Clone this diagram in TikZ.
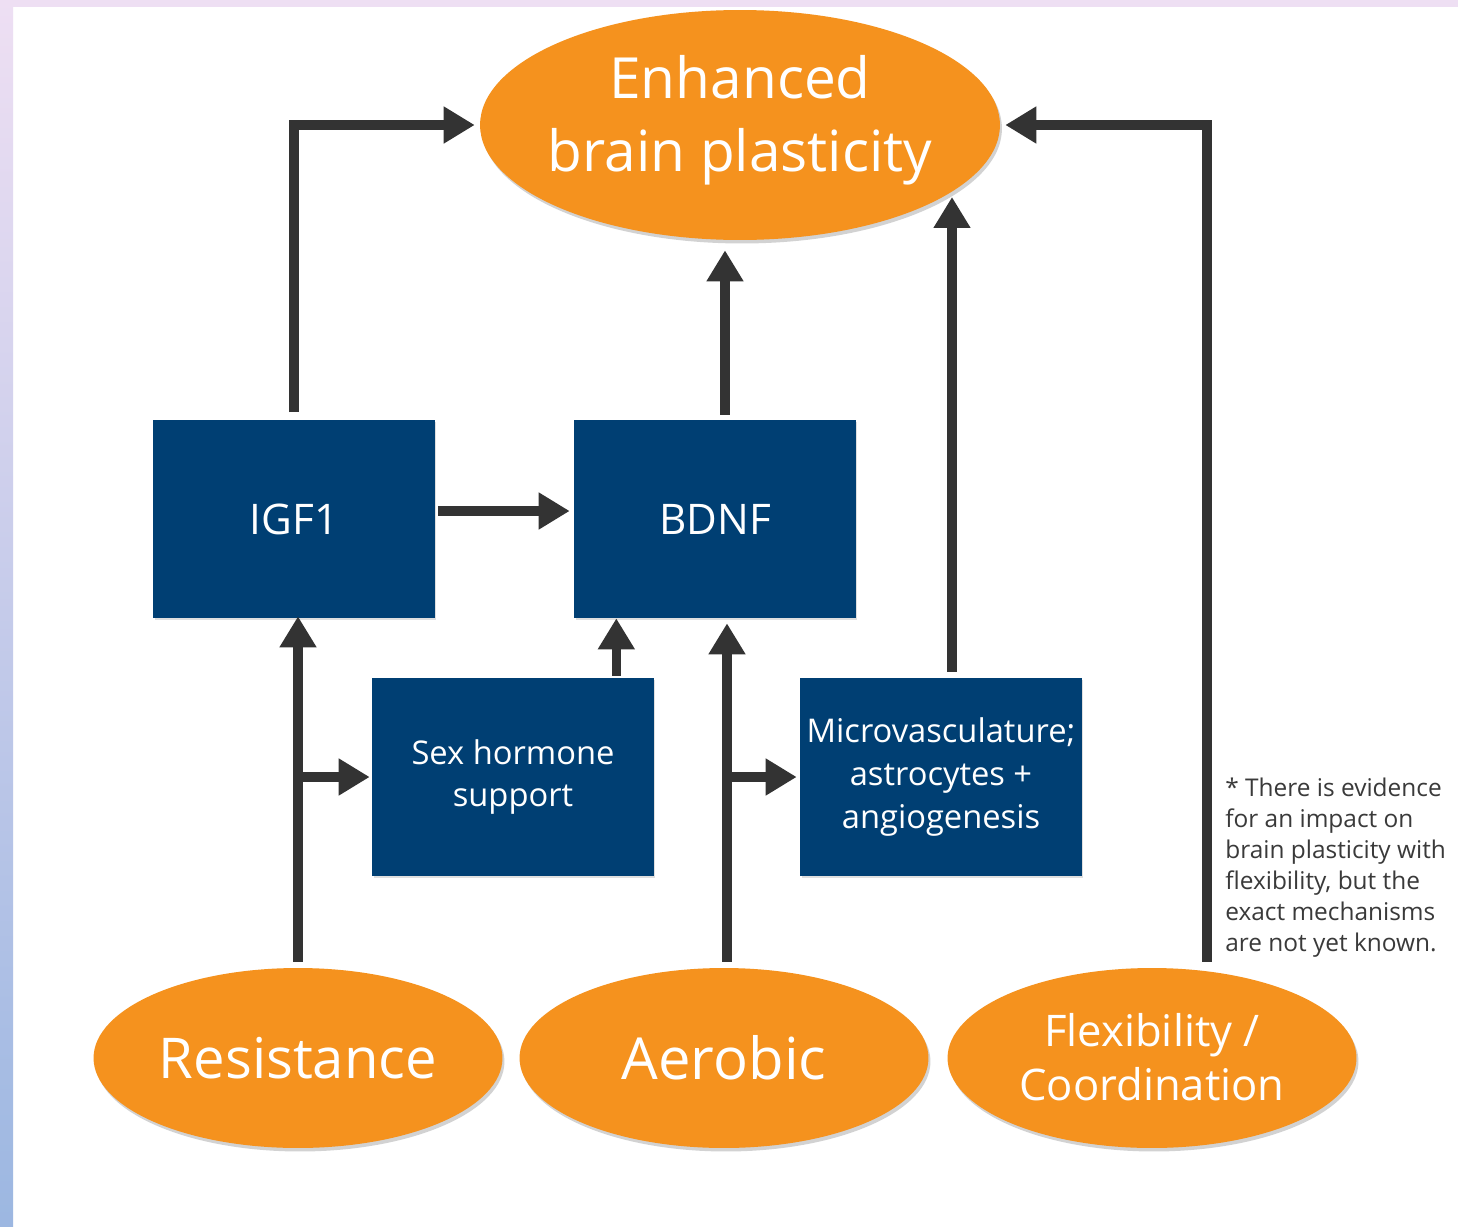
\documentclass[tikz,border=0pt]{standalone}
\usepackage{fontspec}
\setmainfont{Open Sans}
\usetikzlibrary{shapes.geometric,arrows.meta,shadows,calc}
\definecolor{orng}{HTML}{F5921E}
\definecolor{navy}{HTML}{003F73}
\definecolor{arr}{HTML}{333333}
\definecolor{bordtop}{HTML}{EEDFF3}
\definecolor{bordbot}{HTML}{9CB7E1}
\definecolor{notegray}{HTML}{3A3A3A}
\begin{document}
\begin{tikzpicture}[x=0.02cm,y=-0.02cm,
  oval/.style={ellipse,fill=orng,draw=none,inner sep=0pt,
    drop shadow={shadow xshift=0.04cm,shadow yshift=-0.07cm,opacity=0.35,fill=gray}},
  ovaltext/.style={text=white,align=center,font=\fontsize{32.3}{41.5}\selectfont},
  bluebox/.style={rectangle,fill=navy,draw=none,inner sep=0pt,
    minimum width=5.64cm,minimum height=3.96cm,text=white,align=center,
    drop shadow={shadow xshift=0.03cm,shadow yshift=-0.04cm,opacity=0.25,fill=gray}},
  conn/.style={draw=arr,line width=0.19cm,
    -{Triangle[length=0.62cm,width=0.7cm]}},
]
\useasboundingbox (0,0) rectangle (1458,1227);
\fill[white] (0,0) rectangle (1458,1227);
% border strips
\shade[top color=bordtop,bottom color=bordbot] (0,0) rectangle (13,1227);
\fill[bordtop] (13,0) rectangle (1458,7);

% ellipses
\node[oval,minimum width=10.4cm,minimum height=4.6cm] (top) at (740,125) {};
\node[ovaltext] (toptxt) at (740,120) {Enhanced\\brain plasticity};

\node[oval,minimum width=8.18cm,minimum height=3.6cm] (res) at (298,1058) {};
\node[ovaltext,font=\fontsize{32}{40}\selectfont] (restxt) at (298,1058) {Resistance};
\node[oval,minimum width=8.18cm,minimum height=3.6cm] (aer) at (724,1058) {};
\node[ovaltext,font=\fontsize{33}{40}\selectfont] (aertxt) at (724,1058) {Aerobic};
\node[oval,minimum width=8.18cm,minimum height=3.6cm] (flex) at (1152,1058) {};
\node[ovaltext,font=\fontsize{24.8}{31}\selectfont] (flextxt) at (1152,1057) {Flexibility /\\Coordination};

% boxes
\node[bluebox,font=\fontsize{24}{28}\selectfont] (igf) at (294,519) {IGF1};
\node[bluebox,font=\fontsize{24}{28}\selectfont] (bdnf) at (715,519) {BDNF};
\node[bluebox,font=\fontsize{18.6}{24.4}\selectfont] (sex) at (513,777) {Sex hormone\\support};
\node[bluebox,font=\fontsize{18.6}{24.4}\selectfont] (micro) at (941,777) {Microvasculature;\\astrocytes +\\angiogenesis};

% note
\node[anchor=north west,align=left,text=notegray,inner sep=0pt,
  font=\fontsize{13.9}{17.6}\selectfont] (note) at (1225,778)
  {* There is evidence\\for an impact on\\brain plasticity with\\flexibility, but the\\exact mechanisms\\are not yet known.};

% connectors
\coordinate (rs) at ($(res.north)+(0,-6)$);
\draw[conn,shorten >=-0.04cm] (rs) -- (rs |- igf.south);
\draw[conn,shorten >=0.04cm] (rs |- sex.west) -- (sex.west);
\draw[conn] (igf.north |- 0,412) -- (igf.north |- top.west) -- ($(top.west)+(-5,0)$);
\draw[conn,shorten >=0.04cm] ($(igf.east)+(3,-8)$) -- ($(bdnf.west)+(-2,-8)$);
\coordinate (sx) at ($(sex.north east)+(-38,0)$);
\draw[conn] ($(sx)+(0,-2)$) -- (sx |- bdnf.south);
\coordinate (ar) at ($(aer.north)+(3,-6)$);
\draw[conn,shorten >=0.1cm] (ar) -- (ar |- bdnf.south);
\draw[conn,shorten >=0.06cm] (ar |- micro.west) -- (micro.west);
\coordinate (bt) at ($(bdnf.north)+(10,-5)$);
\draw[conn] (bt) -- ($(bt |- top.south)+(0,10)$);
\coordinate (mt) at ($(micro.north)+(11,-6)$);
\coordinate (mend) at (952,197);
\draw[conn] (mt) -- (mend);
\coordinate (fx) at ($(flex.north)+(55,-6)$);
\draw[conn] (fx) -- (fx |- top.east) -- ($(top.east)+(5,0)$);
\end{tikzpicture}
\end{document}
